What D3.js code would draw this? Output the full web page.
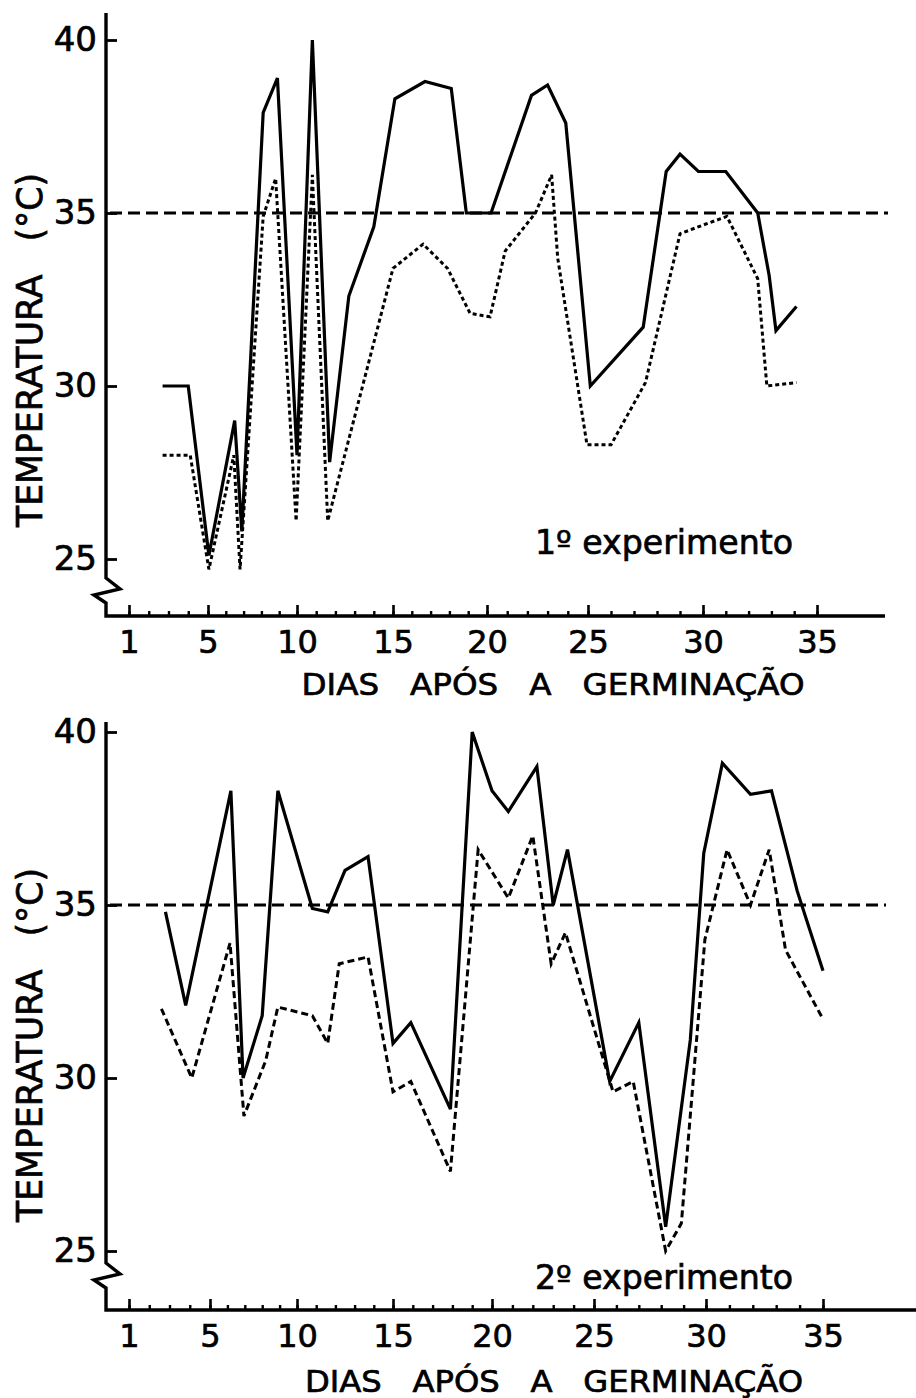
<!DOCTYPE html>
<html lang="pt">
<head>
<meta charset="UTF-8">
<title>Temperatura - dias após a germinação</title>
<script src="https://cdnjs.cloudflare.com/ajax/libs/d3/7.9.0/d3.min.js"></script>
<style>
  body { margin: 0; background: #fff; }
  svg text { font-family: "DejaVu Sans", sans-serif; fill: #000; stroke: #000; stroke-width: 0.7px; }
</style>
</head>
<body>
<div id="chart"></div>
<script>
// axis ticks
const dayTicks = [1, 5, 10, 15, 20, 25, 30, 35];
const tempTicks = [25, 30, 35, 40];
const limitTemp = 35;

// 1º experimento
const exp1SolidDays = [2.7, 4.0, 5.05, 6.5, 6.9, 8.1, 8.9, 10.0, 10.8, 11.7, 12.7, 14.0, 15.1, 16.7, 18.1, 18.9, 20.2, 22.2, 23.0, 23.9, 25.1, 27.4, 28.4, 29.0, 29.8, 31.0, 32.4, 32.9, 33.2, 34.1];
const exp1SolidTemp = [30.0, 30.0, 25.1, 29.0, 25.8, 37.9, 38.9, 28.0, 40.0, 27.8, 32.6, 34.6, 38.3, 38.8, 38.6, 35.0, 35.0, 38.4, 38.7, 37.6, 30.0, 31.7, 36.2, 36.7, 36.2, 36.2, 35.0, 33.2, 31.6, 32.3];
const exp1DotDays = [2.7, 4.1, 5.05, 6.45, 6.8, 8.1, 8.8, 9.95, 10.8, 11.6, 15.0, 16.6, 17.9, 19.1, 20.15, 20.9, 22.4, 23.2, 23.5, 24.95, 26.0, 27.5, 29.0, 30.2, 31.05, 32.4, 32.8, 34.1];
const exp1DotTemp = [28.0, 28.0, 24.7, 28.0, 24.7, 34.9, 36.0, 26.1, 36.1, 26.1, 33.4, 34.1, 33.4, 32.1, 32.0, 33.9, 35.0, 36.1, 33.7, 28.3, 28.3, 30.1, 34.4, 34.7, 34.9, 33.1, 30.0, 30.1];

// 2º experimento
const exp2SolidDays = [2.8, 3.8, 6.2, 6.9, 8.0, 8.9, 10.8, 11.6, 12.5, 13.7, 15.0, 15.9, 17.9, 19.0, 20.0, 20.8, 22.2, 23.0, 23.7, 25.7, 27.0, 28.2, 29.3, 29.9, 30.7, 31.9, 32.8, 33.9, 35.0];
const exp2SolidTemp = [34.8, 32.1, 38.3, 30.0, 31.8, 38.3, 34.9, 34.8, 36.0, 36.4, 31.0, 31.6, 29.1, 40.0, 38.3, 37.7, 39.0, 35.0, 36.6, 29.9, 31.6, 25.7, 31.1, 36.5, 39.1, 38.2, 38.3, 35.4, 33.1];
const exp2DashDays = [2.6, 4.1, 6.15, 6.95, 8.2, 8.9, 10.8, 11.6, 12.2, 13.7, 15.0, 15.9, 17.9, 19.3, 20.8, 22.0, 22.9, 23.6, 25.85, 26.75, 28.2, 28.9, 29.95, 30.9, 31.9, 32.7, 33.4, 35.0];
const exp2DashTemp = [32.0, 30.0, 33.9, 28.9, 30.5, 32.05, 31.8, 31.0, 33.3, 33.5, 29.6, 29.9, 27.3, 36.6, 35.2, 37.0, 33.3, 34.2, 29.6, 29.9, 25.0, 25.8, 34.0, 36.6, 35.0, 36.6, 33.7, 31.7];

const width = 916, height = 1398;
const axisX = 106;
const gap = "\u00A0\u00A0\u00A0";

// the hand drawn day axis is not even, so the scale is piecewise
const panels = [
    {
        note: "1º experimento",
        solid: d3.zip(exp1SolidDays, exp1SolidTemp),
        other: d3.zip(exp1DotDays, exp1DotTemp),
        otherDash: "4,3",
        xRange: [129, 208, 297, 393, 487, 588, 703, 817],
        yRange: [559, 40],
        axisTop: 13, axisY: 616, axisRight: 885, refRight: 888, breakTop: 578,
        labelMid: 350, titleX: 553, titleY: 695, titleLen: 503,
        noteY: 554
    },
    {
        note: "2º experimento",
        solid: d3.zip(exp2SolidDays, exp2SolidTemp),
        other: d3.zip(exp2DashDays, exp2DashTemp),
        otherDash: "7,4",
        xRange: [129, 210, 297, 393, 492, 594, 706, 823],
        yRange: [1251, 732],
        axisTop: 722, axisY: 1310, axisRight: 916, refRight: 886, breakTop: 1263,
        labelMid: 1045, titleX: 554, titleY: 1392, titleLen: 498,
        noteY: 1289
    }
];

const svg = d3.select("#chart")
    .append("svg")
    .attr("width", width)
    .attr("height", height);

function drawPanel(p) {
    const x = d3.scaleLinear().domain(dayTicks).range(p.xRange);
    const y = d3.scaleLinear().domain([25, 40]).range(p.yRange);
    const g = svg.append("g");

    // 35 °C limit
    g.append("line")
        .attr("x1", axisX + 4)
        .attr("x2", p.refRight)
        .attr("y1", y(limitTemp))
        .attr("y2", y(limitTemp))
        .attr("stroke", "#000")
        .attr("stroke-width", 3)
        .attr("stroke-dasharray", "12,6");

    const line = d3.line()
        .x(d => x(d[0]))
        .y(d => y(d[1]));

    g.append("path")
        .datum(p.other)
        .attr("d", line)
        .attr("fill", "none")
        .attr("stroke", "#000")
        .attr("stroke-width", 3)
        .attr("stroke-dasharray", p.otherDash);

    g.append("path")
        .datum(p.solid)
        .attr("d", line)
        .attr("fill", "none")
        .attr("stroke", "#000")
        .attr("stroke-width", 3.2);

    // axis frame with the break mark
    const b = p.breakTop;
    g.append("path")
        .attr("d", `M${axisX},${p.axisTop}V${b}L${axisX + 14},${b + 11}L${axisX - 12},${b + 17}L${axisX},${b + 25}V${p.axisY}H${p.axisRight}`)
        .attr("fill", "none")
        .attr("stroke", "#000")
        .attr("stroke-width", 3.4);

    // day ticks
    const minor = g.append("g")
        .attr("transform", `translate(0,${p.axisY})`)
        .call(d3.axisBottom(x).tickValues(d3.range(1, 36)).tickSizeInner(-5).tickSizeOuter(0).tickFormat(""));
    minor.select(".domain").remove();
    minor.selectAll("line").attr("stroke-width", 2.4);

    const major = g.append("g")
        .attr("transform", `translate(0,${p.axisY})`)
        .call(d3.axisBottom(x).tickValues(dayTicks).tickSizeInner(-11).tickSizeOuter(0).tickPadding(14));
    major.select(".domain").remove();
    major.selectAll("line").attr("stroke-width", 2.6);
    major.selectAll("text")
        .style("font-size", "32px")
        .attr("fill", "#000");

    // temperature ticks
    const yAx = g.append("g")
        .attr("transform", `translate(${axisX},0)`)
        .call(d3.axisLeft(y).tickValues(tempTicks).tickSizeInner(-11).tickSizeOuter(0).tickPadding(9));
    yAx.select(".domain").remove();
    yAx.selectAll("line").attr("stroke-width", 2.8);
    yAx.selectAll("text")
        .style("font-size", "34px")
        .attr("fill", "#000");

    g.append("text")
        .attr("transform", `translate(42,${p.labelMid}) rotate(-90)`)
        .attr("text-anchor", "middle")
        .attr("textLength", 354)
        .attr("lengthAdjust", "spacingAndGlyphs")
        .style("font-size", "36px")
        .text("TEMPERATURA\u00A0\u00A0\u00A0(°C)");

    g.append("text")
        .attr("x", p.titleX)
        .attr("y", p.titleY)
        .attr("text-anchor", "middle")
        .attr("textLength", p.titleLen)
        .attr("lengthAdjust", "spacingAndGlyphs")
        .style("font-size", "31px")
        .text("DIAS" + gap + "APÓS" + gap + "A" + gap + "GERMINAÇÃO");

    g.append("text")
        .attr("x", 535)
        .attr("y", p.noteY)
        .attr("textLength", 258)
        .attr("lengthAdjust", "spacingAndGlyphs")
        .style("font-size", "33px")
        .text(p.note);
}

panels.forEach(drawPanel);
</script>
</body>
</html>
